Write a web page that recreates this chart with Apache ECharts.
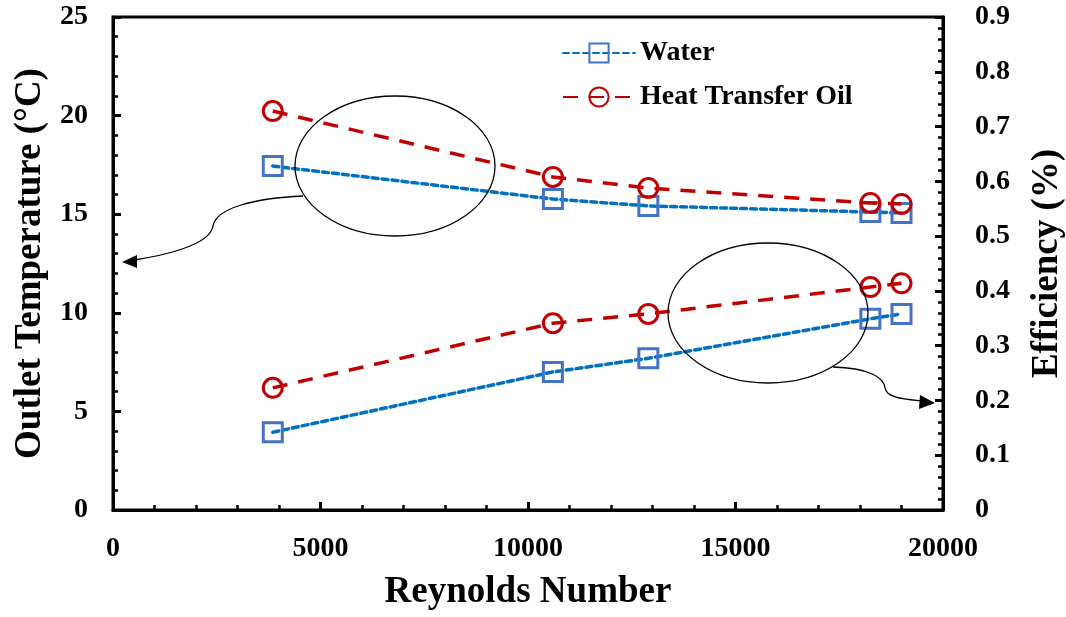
<!DOCTYPE html>
<html>
<head>
<meta charset="utf-8">
<script src="https://cdn.jsdelivr.net/npm/echarts@6/dist/echarts.min.js"></script>
<style>
  html, body { margin: 0; padding: 0; background: #fff; }
  #chart { width: 1066px; height: 617px; }
</style>
</head>
<body>
<div id="chart"></div>
<script>
  // Reynolds number of each run
  var reynolds = [3850, 10600, 12900, 18250, 19000];
  // outlet temperature (°C), left axis
  var waterTemp = [17.44, 15.77, 15.42, 15.11, 15.06];
  var oilTemp = [20.23, 16.89, 16.33, 15.57, 15.52];
  // efficiency, right axis
  var waterEff = [0.142, 0.252, 0.277, 0.349, 0.358];
  var oilEff = [0.223, 0.341, 0.358, 0.407, 0.414];

  var font = '"Liberation Serif", "Times New Roman", serif';
  var blue = '#0070C0', blueMark = '#4472C4', red = '#C00000';

  function pairs(xs, ys) {
    return xs.map(function (x, i) { return [x, ys[i]]; });
  }

  function waterSeries(data, yIdx) {
    return {
      name: 'Water', type: 'line', yAxisIndex: yIdx, data: data,
      symbol: 'rect', symbolSize: 19,
      lineStyle: { color: blue, width: 3.5, type: [6, 4], cap: 'round' },
      itemStyle: { color: 'rgba(0,0,0,0)', borderColor: blueMark, borderWidth: 3 },
      z: 3
    };
  }
  function oilSeries(data, yIdx) {
    return {
      name: 'Heat Transfer Oil', type: 'line', yAxisIndex: yIdx, data: data,
      symbol: 'circle', symbolSize: 19,
      lineStyle: { color: red, width: 3.5, type: [15, 11] },
      itemStyle: { color: 'rgba(0,0,0,0)', borderColor: red, borderWidth: 3 },
      z: 4
    };
  }

  function curve(x1, y1, c1x, c1y, c2x, c2y, x2, y2) {
    return {
      type: 'bezierCurve', z: 10,
      shape: { x1: x1, y1: y1, cpx1: c1x, cpy1: c1y, cpx2: c2x, cpy2: c2y, x2: x2, y2: y2 },
      style: { fill: null, stroke: '#000', lineWidth: 1.3 }
    };
  }

  var axisLine = { lineStyle: { color: '#000', width: 3 } };
  var labelStyle = { color: '#000', fontFamily: font, fontWeight: 'bold', fontSize: 28 };
  var nameStyle = { color: '#000', fontFamily: font, fontWeight: 'bold', fontSize: 37 };
  var tick = { inside: true, length: 8, lineStyle: { color: '#000', width: 3 } };
  var minor = { show: true, splitNumber: 5, length: 5, lineStyle: { color: '#000', width: 2.5 } };

  var chart = echarts.init(document.getElementById('chart'));
  chart.setOption({
    animation: false,
    backgroundColor: '#fff',
    grid: {
      left: 113, right: 123, top: 17, bottom: 107, outerBoundsMode: 'none', containLabel: false,
      show: true, borderColor: '#000', borderWidth: 3
    },
    legend: {
      orient: 'vertical', left: 557, top: 34,
      itemWidth: 72, itemHeight: 24, itemGap: 16,
      data: ['Water', 'Heat Transfer Oil'],
      textStyle: { color: '#000', fontFamily: font, fontWeight: 'bold', fontSize: 28, padding: [0, 0, 0, 0] }
    },
    xAxis: {
      type: 'value', min: 0, max: 20000, interval: 5000,
      name: 'Reynolds Number', nameLocation: 'middle', nameGap: 64, nameTextStyle: nameStyle,
      axisLine: axisLine, axisTick: tick, minorTick: minor,
      axisLabel: Object.assign({ margin: 25, formatter: function (v) { return String(v); } }, labelStyle),
      splitLine: { show: false }
    },
    yAxis: [{
      type: 'value', min: 0, max: 25, interval: 5, position: 'left',
      name: 'Outlet Temperature (°C)', nameLocation: 'middle', nameGap: 60, nameTextStyle: nameStyle,
      axisLine: axisLine, axisTick: tick, minorTick: minor,
      axisLabel: Object.assign({ margin: 25 }, labelStyle),
      splitLine: { show: false }
    }, {
      type: 'value', min: 0, max: 0.9, interval: 0.1, position: 'right',
      name: 'Efficiency (%)', nameLocation: 'middle', nameGap: 86, nameTextStyle: nameStyle,
      axisLine: axisLine, axisTick: tick, minorTick: minor,
      axisLabel: Object.assign({ margin: 32 }, labelStyle),
      splitLine: { show: false }
    }],
    series: [
      waterSeries(pairs(reynolds, waterTemp), 0),
      oilSeries(pairs(reynolds, oilTemp), 0),
      waterSeries(pairs(reynolds, waterEff), 1),
      oilSeries(pairs(reynolds, oilEff), 1)
    ],
    // annotation ellipses and arrows pointing to the matching axis
    graphic: [
      { type: 'ellipse', shape: { cx: 395, cy: 166, rx: 100, ry: 70 },
        style: { fill: null, stroke: '#000', lineWidth: 1.3 }, z: 10 },
      { type: 'ellipse', shape: { cx: 768, cy: 313, rx: 100, ry: 70 },
        style: { fill: null, stroke: '#000', lineWidth: 1.3 }, z: 10 },
      curve(303, 196, 255, 198, 216, 208, 213, 226),
      curve(213, 226, 210, 246, 160, 256, 134, 260),
      { type: 'polygon', shape: { points: [[122, 262], [137, 255], [137, 268]] },
        style: { fill: '#000' }, z: 10 },
      curve(833, 367, 868, 368, 884, 377, 885, 388),
      curve(885, 388, 887, 398, 903, 399, 922, 401),
      { type: 'polygon', shape: { points: [[935, 403], [920, 395], [919, 409]] },
        style: { fill: '#000' }, z: 10 }
    ]
  });
</script>
</body>
</html>
